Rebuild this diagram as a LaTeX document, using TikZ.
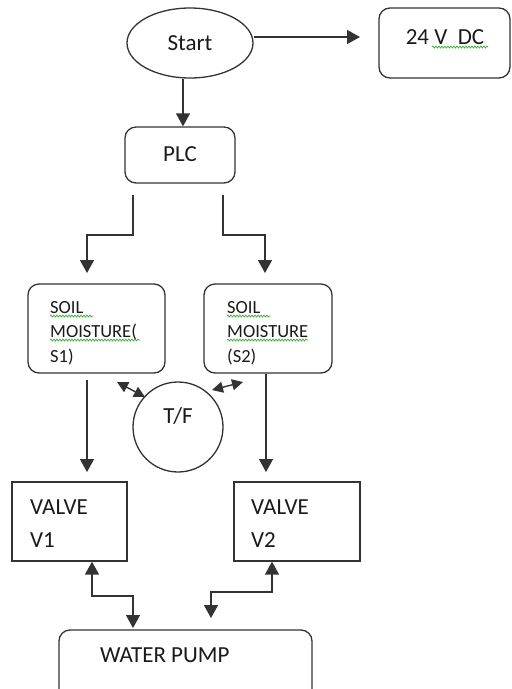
\documentclass[tikz,border=0pt]{standalone}
\usepackage{fontspec}
\setmainfont{Carlito}
\usetikzlibrary{arrows.meta,shapes.geometric,decorations.pathmorphing,calc}
\definecolor{ln}{HTML}{333333}
\definecolor{txt}{HTML}{1A1A1A}
\definecolor{spell}{HTML}{3DAA3D}
\tikzset{
  shp/.style={draw=ln, line width=1.3pt, inner sep=0pt},
  rbox/.style={shp, rectangle, rounded corners=11pt},
  sbox/.style={shp, rectangle},
  lbl/.style={text=txt, font=\fontsize{23}{23}\selectfont, inner sep=0pt},
  slbl/.style={text=txt, font=\fontsize{18.5}{18.5}\selectfont, inner sep=0pt, anchor=west},
  arr/.style={draw=ln, line width=1.4pt, -{Triangle[width=14pt,length=13pt]}},
  darr/.style={draw=ln, line width=1.4pt, {Triangle[width=14pt,length=13pt]}-{Triangle[width=14pt,length=13pt]}},
  sdarr/.style={draw=ln, line width=1.4pt, {Triangle[width=11pt,length=11pt]}-{Triangle[width=11pt,length=11pt]}},
  squig/.style={draw=spell, line width=0.7pt, decorate, decoration={snake, amplitude=1pt, segment length=3pt}}
}
\begin{document}
\begin{tikzpicture}[x=1pt,y=-1pt]
\useasboundingbox (0,0) rectangle (512,689);
\clip (0,0) rectangle (512,689);
\fill[white] (0,0) rectangle (512,689);

% nodes
\node[shp, ellipse, minimum width=126pt, minimum height=70pt] (start) at (190,43) {};
\node[lbl] (startt) at (190,43) {Start};

\node[rbox, minimum width=131pt, minimum height=70pt] (dc) at (444.5,43) {};
\node[lbl] (dct) at (445,37) {24 V\ \ DC};

\node[rbox, minimum width=110pt, minimum height=56pt] (plc) at (180,155) {};
\node[lbl] (plct) at (180,154) {PLC};

\node[rbox, minimum width=137pt, minimum height=89pt] (s1) at (96.5,328.5) {};
\node[slbl] (s1a) at (50,308) {SOIL};
\node[slbl] (s1b) at (50,332) {MOISTURE(};
\node[slbl] (s1c) at (50,357) {S1)};

\node[rbox, minimum width=128pt, minimum height=89pt] (s2) at (268,328.5) {};
\node[slbl] (s2a) at (227,308) {SOIL};
\node[slbl] (s2b) at (227,332) {MOISTURE};
\node[slbl] (s2c) at (227,357) {(S2)};

\node[shp, circle, minimum size=90pt] (tf) at (178,427) {};
\node[lbl] (tft) at (178,416) {T/F};

\node[sbox, minimum width=115pt, minimum height=79pt] (v1) at (69.5,521.5) {};
\node[lbl, anchor=west] (v1a) at (30,507) {VALVE};
\node[lbl, anchor=west] (v1b) at (30,540) {V1};

\node[sbox, minimum width=126pt, minimum height=79pt] (v2) at (297,521.5) {};
\node[lbl, anchor=west] (v2a) at (251,507) {VALVE};
\node[lbl, anchor=west] (v2b) at (251,540) {V2};

\node[rbox, minimum width=253pt, minimum height=80pt] (pump) at (185.5,670) {};
\node[lbl, anchor=west] (pumpt) at (100,655) {WATER PUMP};

% spell-check squiggles
\draw[squig] (50,316) -- (93,316);
\draw[squig] (50,340) -- (140,340);
\draw[squig] (227,316) -- (270,316);
\draw[squig] (227,340) -- (308,340);
\draw[squig] (432,47) -- (488,47);

% coordinates for free ends
\coordinate (dcin) at (360,37);
\coordinate (p1) at (133,195);
\coordinate (p2) at (223,195);
\coordinate (s1in) at (87,273);
\coordinate (s2in) at (265,273);
\coordinate (s1out) at (87,380);
\coordinate (v1in) at (87,472);
\coordinate (v2in) at (266,472);
\coordinate (tfl1) at (117,382);
\coordinate (tfl2) at (145,397);
\coordinate (tfr1) at (212,390);
\coordinate (tfr2) at (243,382);
\coordinate (pin1) at (133,628);
\coordinate (pin2) at (211,618);
\coordinate (v1b1) at (92,596);
\coordinate (v2b1) at (272,592);

% connectors
\draw[arr] ($(start.east)+(0,-6)$) -- (dcin);
\draw[arr] ([xshift=-7pt]start.south) -- ([xshift=3pt]plc.north);
\draw[arr] (p1) -- ++(0,40) -| (s1in);
\draw[arr] (p2) -- ++(0,40) -| (s2in);
\draw[arr] (s1out) -- (v1in);
\draw[arr] (s2.south -| v2in) -- (v2in);
\draw[sdarr] (tfl1) -- (tfl2);
\draw[sdarr] (tfr1) -- (tfr2);
\draw[darr] (v1.south -| v1b1) -- (v1b1) -| (pin1);
\draw[darr] (v2.south -| v2b1) -- (v2b1) -| (pin2);
\end{tikzpicture}
\end{document}
